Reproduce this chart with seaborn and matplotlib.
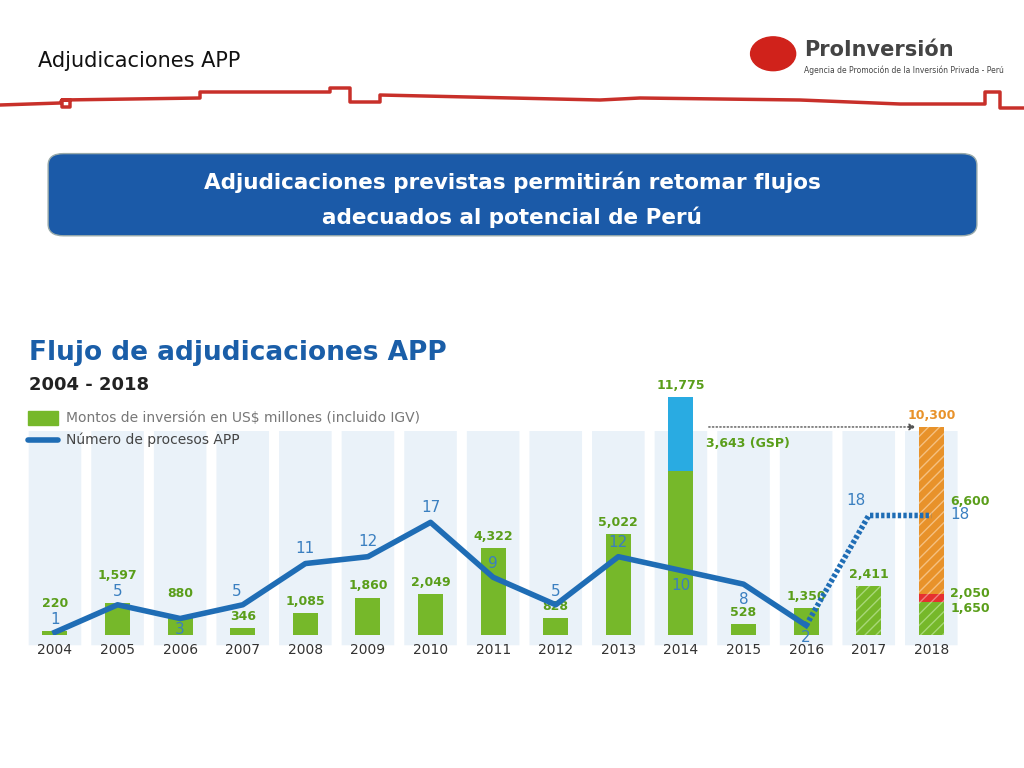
import matplotlib
matplotlib.use("Agg")
import matplotlib.pyplot as plt
import seaborn as sns
import pandas as pd
import numpy as np
from matplotlib.patches import FancyBboxPatch

years = ["2004","2005","2006","2007","2008","2009","2010","2011","2012","2013","2014","2015","2016","2017","2018"]
montos_base = [220,1597,880,346,1085,1860,2049,4322,828,5022,8132,528,1350,2411,1650]
montos_gsp = [0,0,0,0,0,0,0,0,0,0,3643,0,0,0,0]
montos_red = [0,0,0,0,0,0,0,0,0,0,0,0,0,0,400]
montos_orange = [0,0,0,0,0,0,0,0,0,0,0,0,0,0,8250]
bar_labels = ["220","1,597","880","346","1,085","1,860","2,049","4,322","828","5,022","11,775","528","1,350","2,411","10,300"]
procesos = [1,5,3,5,11,12,17,9,5,12,10,8,2,18,18]

GREEN = "#76b82a"; BLUE = "#1f6db5"; DGREEN = "#5a9e1a"
fig = plt.figure(figsize=(10.24,7.68), dpi=100)
fig.patch.set_facecolor("white")

fig.text(0.037,0.92,"Adjudicaciones APP",fontsize=15,color="#111",va="center")
xs = np.array([0,60,62,70,70,62,62,200,200,330,330,350,350,380,380,600,640,800,900,985,985,1000,1000,1024])
ys = np.array([105,103,100,100,107,107,100,98,92,92,88,88,102,102,95,100,98,100,104,104,92,92,108,108])
fig.add_artist(plt.Line2D(xs/1024,1-ys/768,color="#c8302a",lw=2.5))
fig.text(0.785,0.935,"ProInversión",fontsize=15,fontweight="bold",color="#444",va="center")
fig.text(0.785,0.908,"Agencia de Promoción de la Inversión Privada - Perú",fontsize=5.5,color="#444",va="center")
fig.add_artist(plt.Circle((0.755,0.93),0.022,color="#d0221b",transform=fig.transFigure))

box = FancyBboxPatch((0.047,0.693),0.907,0.107,boxstyle="round,pad=0,rounding_size=0.015",
                     transform=fig.transFigure,facecolor="#1b5aa8",edgecolor="#9aa",lw=1)
fig.add_artist(box)
fig.text(0.5,0.763,"Adjudicaciones previstas permitirán retomar flujos",ha="center",va="center",color="white",fontsize=15.5,fontweight="bold")
fig.text(0.5,0.717,"adecuados al potencial de Perú",ha="center",va="center",color="white",fontsize=15.5,fontweight="bold")

fig.text(0.028,0.54,"Flujo de adjudicaciones APP",fontsize=19,fontweight="bold",color="#1a5ea8",va="center")
fig.text(0.028,0.499,"2004 - 2018",fontsize=13,fontweight="bold",color="#222",va="center")
fig.add_artist(plt.Rectangle((0.027,0.447),0.03,0.018,color=GREEN,transform=fig.transFigure))
fig.text(0.064,0.456,"Montos de inversión en US$ millones (incluido IGV)",fontsize=10,color="#777",va="center")
fig.add_artist(plt.Line2D([0.027,0.057],[0.427,0.427],color=BLUE,lw=4,solid_capstyle="round"))
fig.text(0.064,0.427,"Número de procesos APP",fontsize=10,color="#444",va="center")

ax = fig.add_axes([0.039,0.173,0.898,0.332])
df = pd.DataFrame({"year":years,"monto":montos_base})
x = np.arange(len(years))
for i in x:
    ax.add_patch(FancyBboxPatch((i-0.42,-500),0.84,10600,boxstyle="round,pad=0,rounding_size=0.1",
                 facecolor="#eaf2f9",edgecolor="none",zorder=0,clip_on=False))
sns.barplot(data=df.iloc[:13],x="year",y="monto",color=GREEN,width=0.4,saturation=1,ax=ax,zorder=2,order=years)
ax.bar(x[13:],montos_base[13:],width=0.4,color=GREEN,hatch="///",edgecolor="#a8d878",lw=0,zorder=2)
ax.bar(x,montos_gsp,bottom=montos_base,width=0.4,color="#29abe2",zorder=2)
b2 = np.array(montos_base)+np.array(montos_gsp)
ax.bar(x,montos_red,bottom=b2,width=0.4,color="#e53030",hatch="///",edgecolor="#f08080",lw=0,zorder=2)
b3 = b2+np.array(montos_red)
ax.bar(x,montos_orange,bottom=b3,width=0.4,color="#e8922a",hatch="///",edgecolor="#f5c080",lw=0,zorder=2)
ax.set_xlim(-0.24,14.45); ax.set_ylim(0,12616)
for s in ax.spines.values(): s.set_visible(False)
ax.set_xlabel(""); ax.set_ylabel(""); ax.set_yticks([])
ax.tick_params(axis="x",length=0,labelsize=10,colors="#333",pad=6)
tot = b3+np.array(montos_orange)
lab_y = tot+250
lab_y[0] = 1250; lab_y[1] = 2650; lab_y[2] = 1750
for i,l in enumerate(bar_labels):
    if i==14: continue
    ax.text(i,lab_y[i],l,ha="center",va="bottom",color=DGREEN,fontsize=9,fontweight="bold",zorder=5)
ax.text(14,tot[14]+250,"10,300",ha="center",va="bottom",color="#e8922a",fontsize=9,fontweight="bold")
ax.text(14.3,6600,"6,600",ha="left",va="center",color=DGREEN,fontsize=9,fontweight="bold")
ax.text(14.3,2050,"2,050",ha="left",va="center",color=DGREEN,fontsize=9,fontweight="bold")
ax.text(14.3,1650-350,"1,650",ha="left",va="center",color=DGREEN,fontsize=9,fontweight="bold")
ax.text(10.4,9500,"3,643 (GSP)",ha="left",va="center",color=DGREEN,fontsize=9,fontweight="bold")
ax.annotate("",xy=(13.8,10300),xytext=(10.4,10300),arrowprops=dict(arrowstyle="-|>",ls=":",color="#555"))

ax2 = ax.twinx()
ax2.set_ylim(0.58,37.7); ax2.set_yticks([])
for s in ax2.spines.values(): s.set_visible(False)
ax2.plot(x[:13],procesos[:13],color=BLUE,lw=4,zorder=4)
ax2.plot(x[12:],procesos[12:],color=BLUE,lw=4,ls=(0,(0.6,0.4)),zorder=4)
offs = [(0,1.9),(0,1.9),(0,-1.6),(-0.1,2.0),(0,2.2),(0,2.2),(0,2.2),(0,2.0),(0,2.0),(0,2.0),(0,-2.2),(0,-2.2),(0,-1.8),(-0.2,2.2),(0.45,0.2)]
for i,p in enumerate(procesos):
    dx,dy = offs[i]
    ax2.text(i+dx,p+dy,str(p),ha="center",va="center",color="#3a7fc0",fontsize=11,zorder=6)
fig.savefig("out.png",dpi=100)
